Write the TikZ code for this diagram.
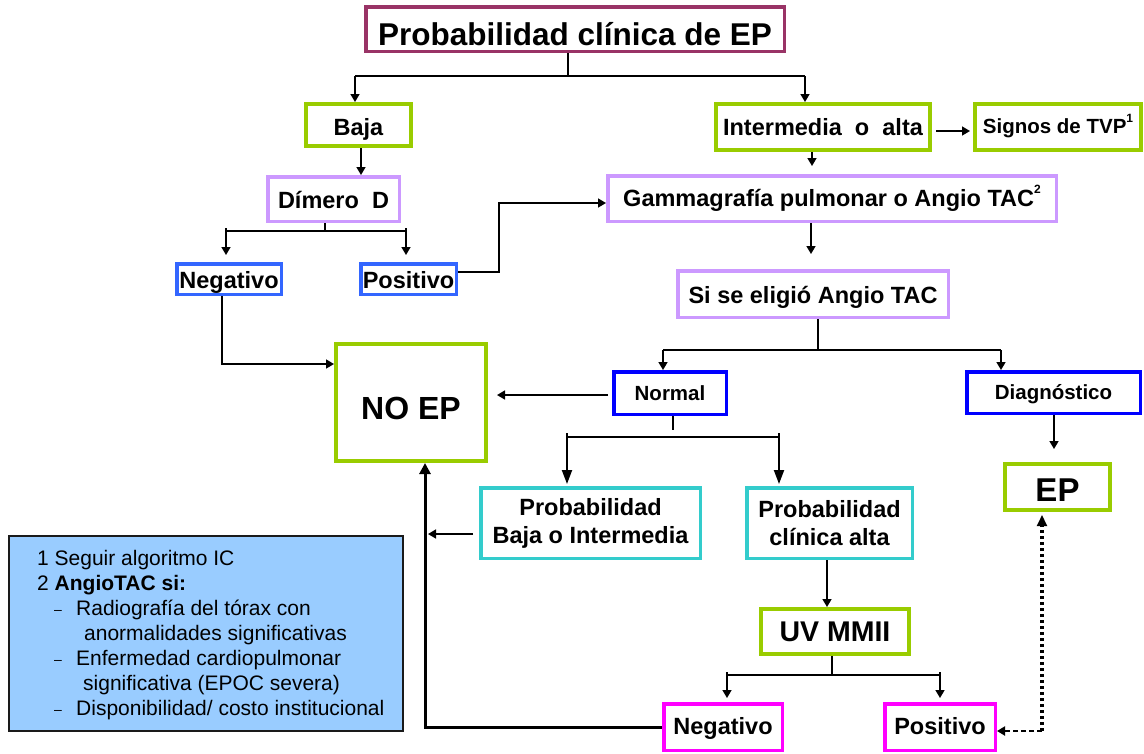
\documentclass[tikz,border=0pt]{standalone}
\usepackage{fontspec}
\setmainfont{Liberation Sans}
\usetikzlibrary{arrows.meta}

\definecolor{cmaroon}{HTML}{993366}
\definecolor{cgreen}{HTML}{99CC00}
\definecolor{clav}{HTML}{CC99FF}
\definecolor{cblueA}{HTML}{3366FF}
\definecolor{cblueB}{HTML}{0000FF}
\definecolor{ccyan}{HTML}{33CCCC}
\definecolor{cmag}{HTML}{FF00FF}
\definecolor{cnote}{HTML}{99CCFF}
\definecolor{cnoteedge}{HTML}{1A1A1A}

\newcommand{\supmark}[1]{\raisebox{0.55em}{\fontsize{12}{12}\selectfont\bfseries #1}}

\tikzset{
  box/.style={draw, line width=3.5pt, fill=white, inner sep=0pt, align=center,
    font=\fontsize{23.5}{28}\selectfont\bfseries},
  gbox/.style={box, draw=cgreen, line width=4pt},
  smallbox/.style={box, font=\fontsize{20.5}{24}\selectfont\bfseries},
  % one-line labels: caps sit a given height above the centre line
  capline/.style={text depth=0pt, text height=#1},
  ln/.style={draw=black, line width=1.3pt},
  arr/.style={ln, line width=1.6pt, -{Triangle[length=8pt,width=9pt]}},
  arrbig/.style={ln, line width=2pt, -{Triangle[length=14pt,width=10pt]}},
  thickarr/.style={draw=black, line width=3pt, -{Triangle[length=11pt,width=11pt]}},
  notetxt/.style={inner sep=0pt, anchor=base west, font=\fontsize{21}{25}\selectfont},
  notedash/.style={inner sep=0pt, anchor=base west, font=\fontsize{14}{14}\selectfont},
}

\begin{document}
\begin{tikzpicture}[x=1pt, y=-1pt]
\useasboundingbox (0,0) rectangle (1144,753);

% ---- boxes ----
\node[box, draw=cmaroon, line width=3.5pt, minimum width=418.5pt, minimum height=44.5pt,
      font=\fontsize{31.5}{34}\selectfont\bfseries, capline=32pt] (title) at (575,29) {Probabilidad clínica de EP};

\node[gbox, minimum width=105pt, minimum height=42pt, capline=20.8pt] (baja) at (358.5,125) {Baja};
\node[gbox, minimum width=214pt, minimum height=46pt, capline=16.8pt] (inter) at (823,127) {Intermedia\ \ o\ \ alta};
\node[gbox, minimum width=166pt, minimum height=46pt, font=\fontsize{20.5}{24}\selectfont\bfseries, capline=13.7pt]
      (signos) at (1058,127) {Signos de TVP\supmark{1}};

\node[box, draw=clav, minimum width=131.5pt, minimum height=44.5pt, capline=18.8pt] (dimero) at (333.5,199) {Dímero\ \ D};
\node[box, draw=clav, minimum width=448.5pt, minimum height=45.5pt, capline=16.8pt] (gamma) at (832,198.5)
      {Gammagrafía pulmonar o Angio TAC\supmark{2}};

\node[box, draw=cblueA, minimum width=104.5pt, minimum height=30.5pt, capline=18.8pt] (negL) at (229,279) {Negativo};
\node[box, draw=cblueA, minimum width=95.5pt, minimum height=30.5pt, capline=18.8pt] (posL) at (408.5,279) {Positivo};

\node[box, draw=clav, minimum width=270.5pt, minimum height=46.5pt, capline=19.8pt] (si) at (813,294) {Si se eligió Angio TAC};

\node[gbox, minimum width=150pt, minimum height=117pt, font=\fontsize{32}{36}\selectfont\bfseries, capline=34.9pt]
      (noep) at (411,402.5) {NO EP};

\node[smallbox, draw=cblueB, minimum width=112.5pt, minimum height=42.5pt, capline=14.7pt] (normal) at (670,393) {Normal};
\node[smallbox, draw=cblueB, minimum width=173.5pt, minimum height=41.5pt, capline=14.7pt] (diag) at (1053.5,392.5) {Diagnóstico};

\node[box, draw=ccyan, minimum width=219.5pt, minimum height=70.5pt] (pbaja) at (590.5,523)
      {Probabilidad\\Baja o Intermedia};
\node[box, draw=ccyan, minimum width=165.5pt, minimum height=70.5pt] (palta) at (829.5,523)
      {Probabilidad\\clínica alta};

\node[gbox, minimum width=105pt, minimum height=46pt, font=\fontsize{33}{36}\selectfont\bfseries, capline=29.6pt]
      (ep) at (1057.5,487) {EP};

\node[gbox, minimum width=148pt, minimum height=45pt, font=\fontsize{28.5}{32}\selectfont\bfseries, capline=20.4pt]
      (uv) at (835,631.5) {UV MMII};

\node[box, draw=cmag, minimum width=118.5pt, minimum height=46.5pt, capline=15.8pt] (negB) at (723,727) {Negativo};
\node[box, draw=cmag, minimum width=110.5pt, minimum height=46.5pt, capline=15.8pt] (posB) at (940,727) {Positivo};

% ---- notes panel ----
\node[draw=cnoteedge, line width=2pt, fill=cnote, minimum width=394pt, minimum height=195pt,
      inner sep=0pt] (note) at (206,633.5) {};
\node[notetxt] (n1) at (37,565) {1 Seguir algoritmo IC};
\node[notetxt] (n2) at (37,590) {2 \textbf{AngioTAC si:}};
\node[notedash] (d1) at (54,614) {–};
\node[notetxt] (n3) at (76,615) {Radiografía del tórax con};
\node[notetxt] (n4) at (84,640) {anormalidades significativas};
\node[notedash] (d2) at (54,664) {–};
\node[notetxt] (n5) at (76,665) {Enfermedad cardiopulmonar};
\node[notetxt] (n6) at (83,690) {significativa (EPOC severa)};
\node[notedash] (d3) at (54,714) {–};
\node[notetxt] (n7) at (76,715) {Disponibilidad/ costo institucional};

% ---- connectors ----
% first split
\coordinate (tS) at (568,76);
\coordinate (tL) at (355,76);
\coordinate (tR) at (805,76);
\draw[ln] (title.south -| tS) -- (tS);
\draw[ln] (tL) -- (tR);
\draw[arr] (tL) -- (tL |- baja.north);
\draw[arr] (tR) -- (tR |- inter.north);

% low branch
\coordinate (bD) at (361,0);
\draw[arr] (baja.south -| bD) -- (dimero.north -| bD);

\coordinate (dS) at (325,231);
\coordinate (dL) at (226,231);
\coordinate (dR) at (406,231);
\draw[ln] (dimero.south -| dS) -- (dS);
\draw[ln] (dL) -- (dR);
\draw[arr] ([yshift=3pt]dL) -- ([yshift=7pt]negL.north -| dL);
\draw[arr] ([yshift=3pt]dR) -- ([yshift=7pt]posL.north -| dR);

\coordinate (pg1) at (499,272);
\coordinate (pg2) at (499,203);
\draw[arr] (posL.east |- pg1) -- (pg1) -- (pg2) -- (gamma.west |- pg2);

\coordinate (nl) at (222,364);
\draw[arr] (negL.south -| nl) -- (nl) -- (noep.west |- nl);

% intermediate / high branch
\coordinate (is) at (0,131);
\draw[arr] ([xshift=4pt]inter.east |- is) -- ([xshift=-3pt]signos.west |- is);

\coordinate (ig) at (812,0);
\draw[arr] (inter.south -| ig) -- ([yshift=8pt]gamma.north -| ig);

\coordinate (gs) at (811,0);
\draw[arr] (gamma.south -| gs) -- ([yshift=15pt]si.north -| gs);

\coordinate (sS) at (818,350);
\coordinate (sL) at (663,350);
\coordinate (sR) at (1001,350);
\draw[ln] (si.south -| sS) -- (sS);
\draw[ln] (sL) -- (sR);
\draw[arr] (sL) -- (normal.north -| sL);
\draw[arr] (sR) -- (diag.north -| sR);

\coordinate (nn) at (0,395);
\draw[arr] ([xshift=-4pt]normal.west |- nn) -- ([xshift=9pt]noep.east |- nn);

\coordinate (nS) at (673,430);
\coordinate (nL) at (567,437);
\coordinate (nR) at (779,437);
\draw[ln] (normal.south -| nS) -- (nS);
\draw[ln] (nL) -- (nR);
\draw[arrbig] ([yshift=4pt]nL) -- ([yshift=2pt]pbaja.north -| nL);
\draw[arrbig] ([yshift=4pt]nR) -- ([yshift=2pt]palta.north -| nR);

\coordinate (pb) at (428,534);
\draw[arr] ([xshift=-6pt]pbaja.west |- pb) -- (pb);

\coordinate (de) at (1054,0);
\draw[arr] (diag.south -| de) -- ([yshift=13pt]ep.north -| de);

\coordinate (pu) at (827,0);
\draw[arr] (palta.south -| pu) -- (uv.north -| pu);

\coordinate (uS) at (832,675);
\coordinate (uL) at (727,675);
\coordinate (uR) at (940,675);
\draw[ln] (uv.south -| uS) -- (uS);
\draw[ln] (uL) -- (uR);
\draw[arr] ([yshift=3pt]uL) -- ([yshift=4pt]negB.north -| uL);
\draw[arr] ([yshift=3pt]uR) -- ([yshift=4pt]posB.north -| uR);

% ultrasound negative back to NO EP
\coordinate (nb) at (425,727);
\draw[thickarr] (negB.west |- nb) -- (nb) -- (noep.south -| nb);

% ultrasound positive up to EP
\coordinate (dc) at (1042,731);
\draw[draw=black, line width=3.5pt, dash pattern=on 3pt off 3pt] (dc) -- ([yshift=-14pt]ep.south -| dc);
\draw[-{Triangle[length=11pt,width=10pt]}, line width=2pt] ([yshift=-10pt]ep.south -| dc) -- ([yshift=-3pt]ep.south -| dc);
\draw[line width=2pt, dash pattern=on 5pt off 3pt, -{Triangle[length=8pt,width=9pt]}] (dc) -- (posB.east |- dc);

\end{tikzpicture}
\end{document}
